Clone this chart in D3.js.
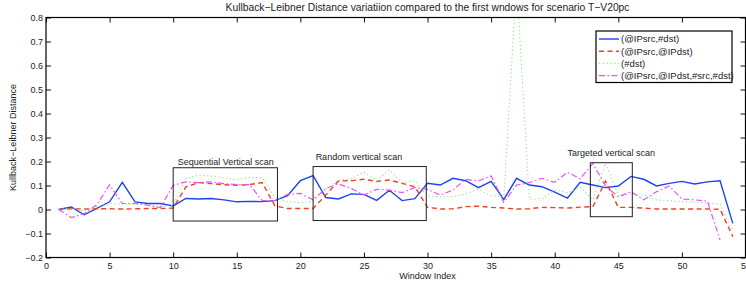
<!DOCTYPE html>
<html>
<head>
<meta charset="utf-8">
<script src="https://cdn.jsdelivr.net/npm/d3@7"></script>
<style>
  body { margin: 0; background: #fff; }
  svg text { font-family: "Liberation Sans", Arial, sans-serif; fill: #222; }
</style>
</head>
<body>
<svg id="chart" width="746" height="284"></svg>
<script>
// Window indices and series values
const windowIndex = d3.range(1, 55);
const ipsrcDst = [0, 0.01, -0.022, 0.005, 0.032, 0.113, 0.032, 0.025, 0.025, 0.015,
  0.046, 0.044, 0.046, 0.04, 0.032, 0.034, 0.033, 0.037, 0.058, 0.12,
  0.141, 0.05, 0.044, 0.065, 0.063, 0.038, 0.08, 0.037, 0.045, 0.109,
  0.102, 0.13, 0.12, 0.091, 0.117, 0.042, 0.13, 0.102, 0.095, 0.072,
  0.047, 0.113, 0.102, 0.091, 0.098, 0.138, 0.126, 0.098, 0.109, 0.117,
  0.106, 0.115, 0.12, -0.058];
const ipsrcIpdst = [0, 0.003, 0.002, 0.003, 0.003, 0.002, 0.003, 0.004, 0.004, 0.006,
  0.094, 0.112, 0.108, 0.103, 0.101, 0.104, 0.112, 0.015, 0.004, 0.004,
  0.004, 0.06, 0.119, 0.12, 0.126, 0.117, 0.123, 0.109, 0.095, 0.009,
  0.002, 0.003, 0.012, 0.014, 0.009, 0.006, 0.002, 0.003, 0.009, 0.008,
  0.006, 0.01, 0.012, 0.118, 0.009, 0.009, 0.006, 0.002, 0.002, 0.002,
  0.002, 0.002, 0.001, -0.113];
const nDst = [0, 0.005, -0.005, 0.011, 0.025, 0.022, 0.022, 0.018, 0.011, 0.018,
  0.129, 0.143, 0.139, 0.132, 0.125, 0.133, 0.133, 0.05, 0.033, 0.028,
  0.033, 0.084, 0.123, 0.127, 0.155, 0.12, 0.165, 0.112, 0.12, 0.056,
  0.053, 0.053, 0.065, 0.084, 0.058, 0.053, 0.95, 0.044, 0.044, 0.081,
  0.07, 0.092, 0.04, 0.192, 0.06, 0.065, 0.06, 0.04, 0.037, 0.033,
  0.03, 0.026, 0.023, -0.09];
const ipsrcIpdstSrcDst = [0, -0.034, -0.017, 0.02, 0.103, 0.025, 0.025, 0.018, 0.008, 0.101,
  0.115, 0.112, 0.115, 0.108, 0.104, 0.104, 0.037, 0.037, 0.063, 0.067,
  0.04, 0.088, 0.106, 0.088, 0.06, 0.084, 0.081, 0.07, 0.092, 0.084,
  0.06, 0.081, 0.126, 0.119, 0.14, 0.03, 0.102, 0.112, 0.13, 0.113,
  0.155, 0.128, 0.192, 0.097, 0.053, 0.074, 0.04, 0.074, 0.098, 0.044,
  0.04, 0.035, -0.127];

const seriesNames = ["(@IPsrc,#dst)", "(@IPsrc,@IPdst)", "(#dst)", "(@IPsrc,@IPdst,#src,#dst)"];
const xTicks = d3.range(0, 56, 5);
const yTicks = [-0.2, -0.1, 0, 0.1, 0.2, 0.3, 0.4, 0.5, 0.6, 0.7, 0.8];

// Annotation boxes: [x0, x1, y0, y1] in data units, plus label anchor
const scanBoxes = [
  { label: "Sequential Vertical scan", x0: 10, x1: 18.2, y0: -0.048, y1: 0.174, tx: 10.35, ty: 0.2 },
  { label: "Random vertical scan", x0: 21, x1: 29.9, y0: -0.046, y1: 0.179, tx: 21.2, ty: 0.219 },
  { label: "Targeted vertical scan", x0: 42.8, x1: 46.1, y0: -0.03, y1: 0.195, tx: 41.0, ty: 0.236 }
];

const series = [
  { name: seriesNames[0], values: ipsrcDst, color: "#1d44f2", width: 1.4, dash: null },
  { name: seriesNames[1], values: ipsrcIpdst, color: "#f2401e", width: 1.4, dash: "5,3.5" },
  { name: seriesNames[2], values: nDst, color: "#86e886", width: 1.1, dash: "1.2,2.6" },
  { name: seriesNames[3], values: ipsrcIpdstSrcDst, color: "#f050f0", width: 1.2, dash: "6,2.5,1.5,2.5" }
];

const plotLeft = 46, plotRight = 745.5, plotTop = 17.5, plotBottom = 257.5;
const svg = d3.select("#chart");

const x = d3.scaleLinear().domain([0, 55]).range([plotLeft, plotRight]);
const y = d3.scaleLinear().domain([-0.2, 0.8]).range([plotBottom, plotTop]);

svg.append("defs").append("clipPath").attr("id", "plot")
  .append("rect").attr("x", plotLeft).attr("y", plotTop)
  .attr("width", plotRight - plotLeft).attr("height", plotBottom - plotTop);

// Title (centred over window index 30, as in the source figure)
svg.append("text")
  .attr("x", x(30)).attr("y", 11)
  .attr("text-anchor", "middle").attr("font-size", 10.3)
  .text("Kullback\u2212Leibner Distance variatiion compared to the first wndows for scenario T\u2212V20pc");

// Axes with inward ticks
const fmtY = d => d === 0 ? "0" : d3.format(".1f")(d);
svg.append("g").attr("transform", `translate(0,${plotBottom})`)
  .call(d3.axisBottom(x).tickValues(xTicks).tickSize(-5).tickPadding(4).tickFormat(d3.format("d")))
  .call(g => g.selectAll("text").attr("font-size", 9).attr("dy", "0.8em"));
svg.append("g").attr("transform", `translate(0,${plotTop})`)
  .call(d3.axisTop(x).tickValues(xTicks).tickSize(-5).tickFormat(""));
svg.append("g").attr("transform", `translate(${plotLeft},0)`)
  .call(d3.axisLeft(y).tickValues(yTicks).tickSize(-5).tickPadding(3).tickFormat(fmtY))
  .call(g => g.selectAll("text").attr("font-size", 9));
svg.append("g").attr("transform", `translate(${plotRight},0)`)
  .call(d3.axisRight(y).tickValues(yTicks).tickSize(-5).tickFormat(""));
svg.selectAll(".domain").remove();
svg.selectAll(".tick line").attr("stroke", "#111");

svg.append("rect")
  .attr("x", plotLeft).attr("y", plotTop)
  .attr("width", plotRight - plotLeft).attr("height", plotBottom - plotTop)
  .attr("fill", "none").attr("stroke", "#000").attr("stroke-width", 1.2);

// Axis labels
svg.append("text")
  .attr("x", x(30)).attr("y", 279)
  .attr("text-anchor", "middle").attr("font-size", 9)
  .text("Window Index");
svg.append("text")
  .attr("transform", `translate(16,${(plotTop + plotBottom) / 2}) rotate(-90)`)
  .attr("text-anchor", "middle").attr("font-size", 9)
  .text("Kullback\u2212Leibner Distance");

// Series lines
const plot = svg.append("g").attr("clip-path", "url(#plot)");
const line = d3.line().x((d, i) => x(windowIndex[i])).y(d => y(d));
series.forEach(s => {
  plot.append("path")
    .datum(s.values)
    .attr("d", line)
    .attr("fill", "none")
    .attr("stroke", s.color)
    .attr("stroke-width", s.width)
    .attr("stroke-dasharray", s.dash);
});

// Annotation boxes and labels
scanBoxes.forEach(b => {
  svg.append("rect")
    .attr("x", x(b.x0)).attr("y", y(b.y1))
    .attr("width", x(b.x1) - x(b.x0)).attr("height", y(b.y0) - y(b.y1))
    .attr("fill", "none").attr("stroke", "#222").attr("stroke-width", 1);
  svg.append("text")
    .attr("x", x(b.tx)).attr("y", y(b.ty))
    .attr("dy", "0.35em").attr("font-size", 9)
    .text(b.label);
});

// Legend
const legend = svg.append("g");
legend.append("rect")
  .attr("x", 596).attr("y", 31).attr("width", 136).attr("height", 51.5)
  .attr("fill", "#fff").attr("stroke", "#000").attr("stroke-width", 1.2);
series.forEach((s, i) => {
  const ly = 39 + i * 12.2;
  legend.append("line")
    .attr("x1", 599).attr("x2", 619).attr("y1", ly).attr("y2", ly)
    .attr("stroke", s.color).attr("stroke-width", s.width)
    .attr("stroke-dasharray", s.dash);
  legend.append("text")
    .attr("x", 621).attr("y", ly).attr("dy", "0.35em")
    .attr("font-size", 9.5)
    .text(s.name);
});
</script>
</body>
</html>
